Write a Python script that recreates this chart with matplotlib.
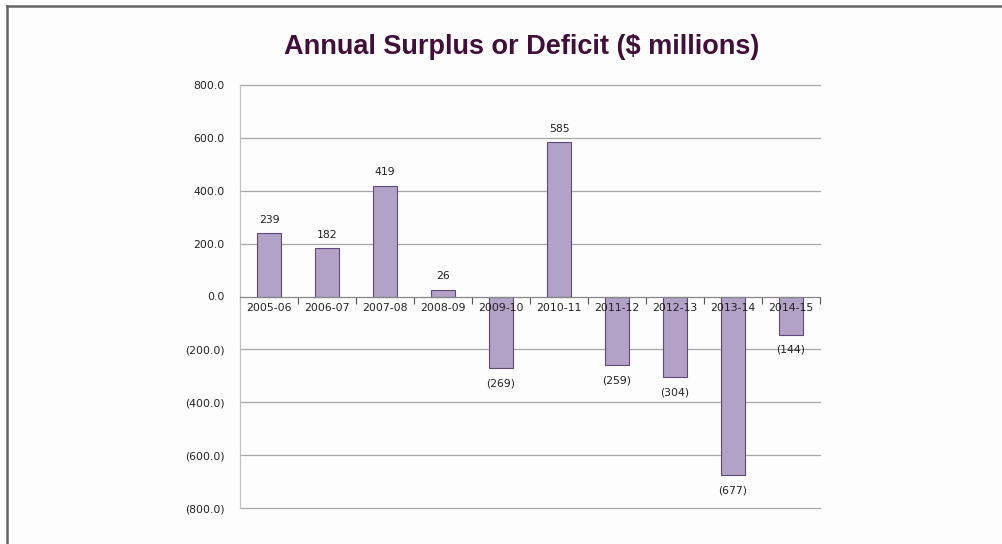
import matplotlib
matplotlib.use("Agg")
import matplotlib.pyplot as plt
from matplotlib.lines import Line2D
from matplotlib.ticker import FixedLocator

years = ["2005-06", "2006-07", "2007-08", "2008-09", "2009-10",
         "2010-11", "2011-12", "2012-13", "2013-14", "2014-15"]
values = [239, 182, 419, 26, -269, 585, -259, -304, -677, -144]
yticks = [800, 600, 400, 200, 0, -200, -400, -600, -800]

def fmt_y(v):
    return f"({abs(v):.1f})" if v < 0 else f"{v:.1f}"

def fmt_lab(v):
    return f"({abs(v):d})" if v < 0 else f"{v:d}"

fig = plt.figure(figsize=(10.02, 5.44), dpi=100)
fig.patch.set_facecolor("#FDFDFD")
ax = fig.add_axes([240/1002, 36/544, 580/1002, 423/544])
ax.set_facecolor("#FDFDFD")

x = list(range(len(years)))
ax.bar(x, values, width=0.4, color="#B3A2C7", edgecolor="#5F497A", linewidth=0.8, zorder=3)

ax.set_xlim(-0.5, len(years) - 0.5)
ax.set_ylim(-800, 800)
ax.set_yticks(yticks)
ax.set_yticklabels([fmt_y(v) for v in yticks], fontsize=7.8, color="#222222")
ax.tick_params(axis="y", length=0, pad=11)
for v in yticks:
    if v != 0:
        ax.axhline(v, color="#A6A6A6", linewidth=0.9, zorder=0, clip_on=False)

for s in ["top", "right"]:
    ax.spines[s].set_visible(False)
ax.spines["left"].set_color("#C0C0C0")
ax.spines["left"].set_linewidth(0.8)
ax.spines["bottom"].set_position(("data", 0))
ax.spines["bottom"].set_color("#868686")
ax.spines["bottom"].set_linewidth(0.9)
ax.spines["bottom"].set_zorder(4)

ax.set_xticks(x)
ax.set_xticklabels([])
ax.xaxis.set_minor_locator(FixedLocator([i - 0.5 for i in range(len(years) + 1)]))
ax.tick_params(axis="x", which="major", length=0)
ax.tick_params(axis="x", which="minor", length=5, direction="out", color="#555555", width=0.8)

for xi, name in zip(x, years):
    ax.annotate(name, (xi, 0), xytext=(0, -5), textcoords="offset points",
                ha="center", va="top", fontsize=7.8, color="#222222", zorder=6)

for xi, v in zip(x, values):
    if v >= 0:
        ax.annotate(fmt_lab(v), (xi, v), xytext=(0, 6), textcoords="offset points",
                    ha="center", va="bottom", fontsize=7.8, color="#222222", zorder=6)
    else:
        ax.annotate(fmt_lab(v), (xi, v), xytext=(0, -7.5), textcoords="offset points",
                    ha="center", va="top", fontsize=7.8, color="#222222", zorder=6)

fig.text(522/1002, 1 - 47/544, "Annual Surplus or Deficit ($ millions)",
         ha="center", va="center", fontsize=19.5, fontweight="bold",
         family="Liberation Sans", color="#420E3A")

# outer border lines (top and left)
fig.add_artist(Line2D([7/1002, 1], [1 - 6/544, 1 - 6/544], color="#666666", linewidth=1.8, transform=fig.transFigure))
fig.add_artist(Line2D([7/1002, 7/1002], [0, 1 - 6/544], color="#666666", linewidth=1.8, transform=fig.transFigure))

fig.savefig("out.png", dpi=100, facecolor=fig.get_facecolor())
